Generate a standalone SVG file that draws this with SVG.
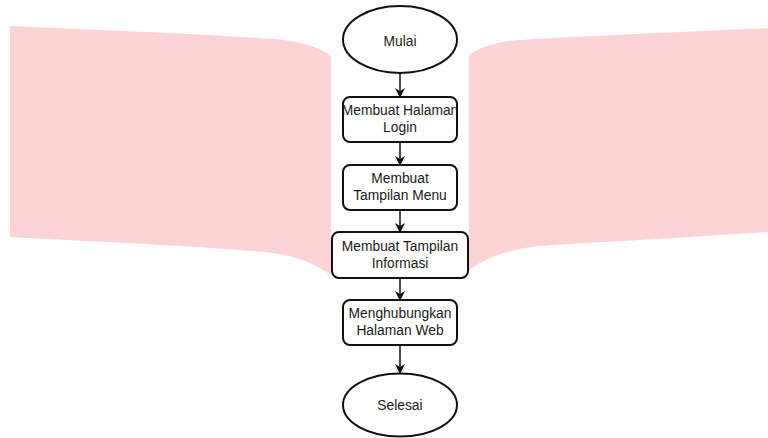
<svg xmlns="http://www.w3.org/2000/svg" width="768" height="438" viewBox="0 0 768 438">
<defs>
<style>
.bg{fill:#fdd4d6;stroke:none}
.shape{fill:#ffffff;stroke:#111111;stroke-width:2}
.lbl{font-family:"Liberation Sans",Arial,sans-serif;font-size:13.8px;fill:#1a1a1a;text-anchor:middle}
.conn{stroke:#111111;stroke-width:1.5;fill:none;marker-end:url(#arr)}
</style>
<marker id="arr" viewBox="0 0 10 10" refX="9" refY="5" markerWidth="10" markerHeight="10" markerUnits="userSpaceOnUse" orient="auto">
<path d="M0,0 L10,5 L0,10 L3,5 Z" fill="#111111"/>
</marker>
</defs>
<rect width="768" height="438" fill="#ffffff"/>
<g id="background">
<path class="bg" d="M10,26 C100,30 200,34 275,39 C305,42 320,48 331,56 L331,275 C315,264 295,255 265,252 C200,246 100,242 10,237 Z"/>
<path class="bg" d="M469,55 C480,47 495,42 520,40 C580,36 680,32 768,28 L768,232 C680,238 600,242 540,246 C510,249 485,258 469,270 Z"/>
</g>
<g id="connectors">
<line class="conn" x1="400" y1="73" x2="400" y2="97"/>
<line class="conn" x1="400" y1="142" x2="400" y2="165"/>
<line class="conn" x1="400" y1="210" x2="400" y2="232"/>
<line class="conn" x1="400" y1="278" x2="400" y2="300"/>
<line class="conn" x1="400" y1="345" x2="400" y2="373"/>
</g>
<g id="mulai">
<ellipse class="shape" cx="400" cy="39.5" rx="57" ry="33.5"/>
<text class="lbl" x="400" y="46">Mulai</text>
</g>
<g id="halaman-login">
<rect class="shape" x="343" y="97" width="114" height="45" rx="7"/>
<text class="lbl" x="400" y="115">Membuat Halaman</text>
<text class="lbl" x="400" y="132">Login</text>
</g>
<g id="tampilan-menu">
<rect class="shape" x="343" y="165" width="114" height="45" rx="7"/>
<text class="lbl" x="400" y="183">Membuat</text>
<text class="lbl" x="400" y="200">Tampilan Menu</text>
</g>
<g id="tampilan-informasi">
<rect class="shape" x="332" y="232" width="136" height="46" rx="7"/>
<text class="lbl" x="400" y="251">Membuat Tampilan</text>
<text class="lbl" x="400" y="268">Informasi</text>
</g>
<g id="halaman-web">
<rect class="shape" x="343" y="300" width="114" height="45" rx="7"/>
<text class="lbl" x="400" y="318">Menghubungkan</text>
<text class="lbl" x="400" y="335">Halaman Web</text>
</g>
<g id="selesai">
<ellipse class="shape" cx="400" cy="405" rx="57" ry="31.5"/>
<text class="lbl" x="400" y="410">Selesai</text>
</g>
</svg>
